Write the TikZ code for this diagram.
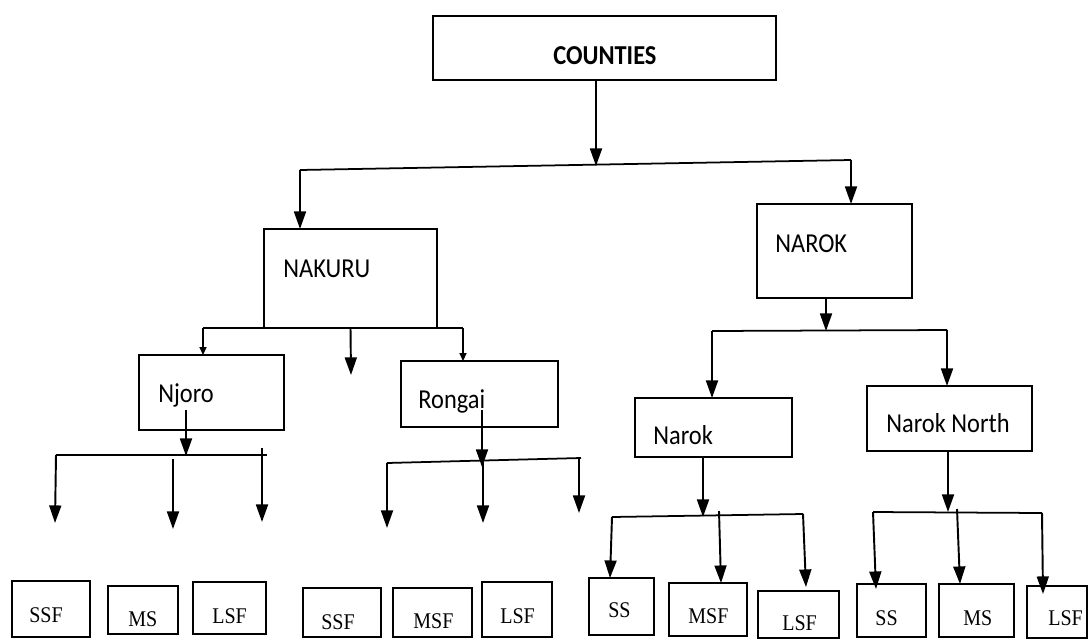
\documentclass[tikz,border=0pt]{standalone}
\usepackage{fontspec}
\setmainfont{Liberation Serif}
\newfontfamily\calibrifont{Carlito}
\usepackage{graphicx}
\usepackage{tikz}
\usetikzlibrary{calc, arrows.meta}
\newcommand{\tallword}[1]{\scalebox{1}[1.12]{#1}}
\tikzstyle{countybox} = [rectangle, draw=black, line width=1pt, inner sep=0pt, outer sep=0pt]
\tikzstyle{nametext} = [anchor=base west, inner sep=0pt, font=\calibrifont\fontsize{13.9pt}{16pt}\selectfont]
\tikzstyle{sizetext} = [anchor=base west, inner sep=0pt, font=\fontsize{11.4pt}{13pt}\selectfont]
\tikzstyle{bigarrow} = [draw, line width=1.1pt, -{Triangle[width=6.8pt, length=10pt]}]
\tikzstyle{smallarrow} = [draw, line width=0.8pt, -{Triangle[width=4pt, length=4.5pt]}]
\tikzstyle{barline} = [draw, line width=1pt]

\begin{document}
\begin{tikzpicture}[x=0.02cm, y=-0.02cm]
        \useasboundingbox (0,0) rectangle (1088,639);

        % counties and the two counties
        \node (counties) [countybox, minimum width=6.86cm, minimum height=1.28cm] at (604.5,48) {};
        \node (countiestxt) [nametext, font=\calibrifont\bfseries\fontsize{13.9pt}{16pt}\selectfont] at (553,64) {\tallword{COUNTIES}};

        \node (nakuru) [countybox, minimum width=3.46cm, minimum height=1.98cm] at (350.5,278.5) {};
        \node (nakurutxt) [nametext] at (283,277) {\tallword{NAKURU}};
        \node (narok) [countybox, minimum width=3.10cm, minimum height=1.88cm] at (834.5,251) {};
        \node (naroktxt) [nametext] at (775,252) {\tallword{NAROK}};

        % sub counties
        \node (njoro) [countybox, minimum width=2.90cm, minimum height=1.50cm] at (211.5,392.5) {};
        \node (njorotxt) [nametext] at (158,402) {\tallword{Njoro}};
        \node (rongai) [countybox, minimum width=3.14cm, minimum height=1.32cm] at (479.5,394) {};
        \node (rongaitxt) [nametext] at (418,408) {\tallword{Rongai}};
        \node (naroksub) [countybox, minimum width=3.14cm, minimum height=1.18cm] at (713.5,427.5) {};
        \node (naroksubtxt) [nametext] at (653,444) {\tallword{Narok}};
        \node (naroknorth) [countybox, minimum width=3.30cm, minimum height=1.30cm] at (949.5,418.5) {};
        \node (naroknorthtxt) [nametext] at (886,432) {\tallword{Narok North}};

        % farm sizes
        \node (njssf) [countybox, minimum width=1.56cm, minimum height=1.12cm] at (51,609) {};
        \node (njssftxt) [sizetext] at (29,622) {\tallword{SSF}};
        \node (njms) [countybox, minimum width=1.40cm, minimum height=0.96cm] at (143,610) {};
        \node (njmstxt) [sizetext] at (128,626) {\tallword{MS}};
        \node (njlsf) [countybox, minimum width=1.46cm, minimum height=1.04cm] at (229.5,608) {};
        \node (njlsftxt) [sizetext] at (212,623) {\tallword{LSF}};

        \node (rossf) [countybox, minimum width=1.56cm, minimum height=0.98cm] at (342,612.5) {};
        \node (rossftxt) [sizetext] at (321,629) {\tallword{SSF}};
        \node (romsf) [countybox, minimum width=1.58cm, minimum height=0.98cm] at (432.5,612.5) {};
        \node (romsftxt) [sizetext] at (413,628) {\tallword{MSF}};
        \node (rolsf) [countybox, minimum width=1.40cm, minimum height=1.10cm] at (517,609.5) {};
        \node (rolsftxt) [sizetext] at (500,623) {\tallword{LSF}};

        \node (nass) [countybox, minimum width=1.30cm, minimum height=1.14cm] at (621.5,606.5) {};
        \node (nasstxt) [sizetext] at (608,617) {\tallword{SS}};
        \node (namsf) [countybox, minimum width=1.56cm, minimum height=1.06cm] at (708,609.5) {};
        \node (namsftxt) [sizetext] at (688,623) {\tallword{MSF}};
        \node (nalsf) [countybox, minimum width=1.62cm, minimum height=0.94cm] at (798.5,614.5) {};
        \node (nalsftxt) [sizetext] at (782,630) {\tallword{LSF}};

        \node (nnss) [countybox, minimum width=1.38cm, minimum height=1.06cm] at (891.5,610.5) {};
        \node (nnsstxt) [sizetext] at (875,625) {\tallword{SS}};
        \node (nnms) [countybox, minimum width=1.50cm, minimum height=1.06cm] at (976.5,610.5) {};
        \node (nnmstxt) [sizetext] at (963,625) {\tallword{MS}};
        \node (nnlsf) [countybox, minimum width=1.20cm, minimum height=1.04cm] at (1057,612) {};
        \node (nnlsftxt) [sizetext] at (1048,625) {\tallword{LSF}};

        % branch points
        \coordinate (top) at (596,166);
        \coordinate (topl) at (300,170);
        \coordinate (topr) at (851,160);
        \coordinate (nkl) at (203,328);
        \coordinate (nkr) at (463,328);
        \coordinate (nkmid) at (351,375);
        \coordinate (nrk) at (826,331);
        \coordinate (nrkl) at (712,331);
        \coordinate (nrkr) at (947,330);

        \coordinate (njstart) at (186,410);
        \coordinate (njbar) at (186,456);
        \coordinate (njl) at (56,455);
        \coordinate (njr) at (267,455);
        \coordinate (ronstart) at (482,410);
        \coordinate (ronbar) at (482,467);
        \coordinate (ronl) at (387,463);
        \coordinate (ronr) at (581,458);
        \coordinate (nsbar) at (703,517);
        \coordinate (nsl) at (612,517);
        \coordinate (nsr) at (803,514);
        \coordinate (nnbar) at (948,512);
        \coordinate (nnl) at (873,512);
        \coordinate (nnr) at (1042,513);

        \draw[bigarrow] (counties.south -| top) -- (top);
        \draw[barline] (topl) -- (topr);
        \draw[bigarrow] (topl) -- (topl |- nakuru.north);
        \draw[bigarrow] (topr) -- (topr |- narok.north);

        \draw[barline] (nkl) -- (nkr);
        \draw[smallarrow] (nkl) -- (nkl |- njoro.north);
        \draw[smallarrow] (nkr) -- (nkr |- rongai.north);
        \draw[bigarrow] (nakuru.south) -- (nkmid);

        \draw[bigarrow] (narok.south -| nrk) -- (nrk);
        \draw[barline] (nrkl) -- (nrkr);
        \draw[bigarrow] (nrkl) -- (nrkl |- naroksub.north);
        \draw[bigarrow] (nrkr) -- (nrkr |- naroknorth.north);

        % njoro
        \draw[bigarrow] (njstart) -- (njbar);
        \draw[barline] (njl) -- (njr);
        \draw[bigarrow] (njl) -- (55,523);
        \draw[bigarrow] (173,459) -- (173,529);
        \draw[bigarrow] (262,448) -- (262,522);

        % rongai
        \draw[bigarrow] (ronstart) -- (ronbar);
        \draw[barline] (ronl) -- (ronr);
        \draw[bigarrow] (ronl) -- (387,528);
        \draw[bigarrow] (483,462) -- (483,523);
        \draw[bigarrow] (579,458) -- (579,513);

        % narok
        \draw[bigarrow] (naroksub.south -| nsbar) -- (nsbar);
        \draw[barline] (nsl) -- (nsr);
        \draw[bigarrow] (nsl) -- (nass.north -| 610,0);
        \draw[bigarrow] (719,511) -- (namsf.north -| 721,0);
        \draw[bigarrow] (nsr) -- (806,587);

        % narok north
        \draw[bigarrow] (naroknorth.south -| nnbar) -- (nnbar);
        \draw[barline] (nnl) -- (nnr);
        \draw[bigarrow] (nnl) -- (876,589);
        \draw[bigarrow] (957,509) -- (960,584);
        \draw[bigarrow] (nnr) -- (1043,594);

    \end{tikzpicture}
\end{document}
